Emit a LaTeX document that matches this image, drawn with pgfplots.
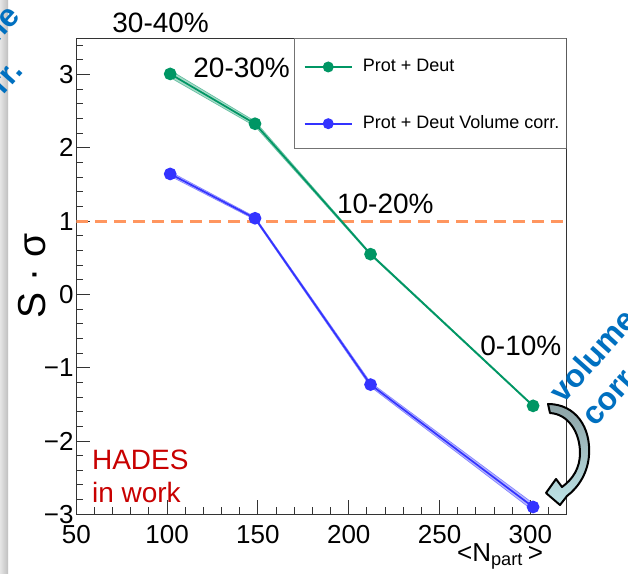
\documentclass[border=0pt]{standalone}
\usepackage{fontspec}
\setmainfont{Liberation Sans}
\usepackage{pgfplots}
\pgfplotsset{compat=1.18}
\definecolor{rgreen}{RGB}{0,150,100}
\definecolor{rblue}{RGB}{51,51,255}
\definecolor{rorange}{RGB}{255,150,95}
\definecolor{hred}{RGB}{200,0,0}
\definecolor{vblue}{RGB}{0,112,192}
\begin{document}
\begin{tikzpicture}
\clip (0,0) rectangle (314pt,287pt);
\fill[white] (0,0) rectangle (314pt,287pt);
\shade[left color=black!10, right color=black!25] (0,0) rectangle (4pt,287pt);
\begin{axis}[
  at={(38.15pt,29.85pt)}, anchor=south west, scale only axis,
  width=245.2pt, height=238.15pt,
  xmin=50, xmax=320, ymin=-3, ymax=3.5,
  axis line style={black!80, line width=0.5pt},
  tick pos=left, tick align=inside,
  major tick length=7pt, minor tick length=3.5pt,
  tick style={black!80, line width=0.5pt},
  xtick={50,100,...,300}, xticklabels={50,100,150,200,250,300},
  minor xtick={60,70,...,310},
  ytick={-3,-2,...,3}, yticklabels={−3,−2,−1,0,1,2,3},
  minor ytick={-2.8,-2.6,...,3.4},
  tick label style={font=\fontsize{13}{13}\selectfont},
  yticklabel style={xshift=2.2pt},
  xticklabel style={yshift=-2pt},
  ylabel={S · σ},
  ylabel style={at={(axis description cs:-0.0638,0.5)}, anchor=base, font=\fontsize{19.5}{19.5}\selectfont},
  xlabel={<N\textsubscript{part}\,>},
  xlabel style={at={(axis description cs:0.966,-0.100)}, anchor=base east, font=\fontsize{13}{13}\selectfont},
  legend style={at={(axis description cs:0.4629,0.8793)}, anchor=west, draw=none, fill=none,
    inner sep=0pt, row sep=20.5pt, font=\fontsize{9}{9}\selectfont, nodes={inner sep=0pt},
    /tikz/every odd column/.append style={column sep=5pt}},
  legend cell align=left,
  legend image code/.code={\draw[mark repeat=2,mark phase=2,mark size=2.3pt] plot coordinates {(0pt,0pt)(11.85pt,0pt)(23.7pt,0pt)};},
]
\addplot[rorange, line width=1.6pt, dash pattern=on 6pt off 3.5pt, forget plot] coordinates {(50,1)(320,1)};
% error bands
\addplot[draw=rgreen, draw opacity=0.5, line width=0.3pt, fill=rgreen, fill opacity=0.35, forget plot] coordinates {(101.7,3.06)(148.4,2.365)(212,0.565)(301.5,-1.508)(301.5,-1.532)(212,0.535)(148.4,2.295)(101.7,2.96)} -- cycle;
\addplot[draw=rblue, draw opacity=0.5, line width=0.3pt, fill=rblue, fill opacity=0.35, forget plot] coordinates {(101.7,1.675)(148.4,1.06)(212,-1.20)(301.5,-2.85)(301.5,-2.95)(212,-1.26)(148.4,1.02)(101.7,1.615)} -- cycle;
\addplot[rgreen, line width=0.85pt, mark=*, mark size=2.75pt, mark options={solid}] coordinates {(101.7,3.01)(148.4,2.33)(212,0.55)(301.5,-1.52)};
\addlegendentry{Prot + Deut}
\addplot[rblue, line width=0.85pt, mark=*, mark size=2.75pt, mark options={solid}] coordinates {(101.7,1.645)(148.4,1.04)(212,-1.23)(301.5,-2.90)};
\addlegendentry{Prot + Deut Volume corr.}
\draw[black!55, line width=0.5pt] (axis description cs:0.4445,0.768) rectangle (axis description cs:1,1);
\end{axis}
\begin{scope}[x=0.5pt, y=-0.5pt, shift={(0pt,287pt)}]
\begin{scope}[every node/.style={inner sep=0pt, font=\fontsize{14}{14}\selectfont}]
\node[anchor=base west] at (112,33) {30-40\%};
\node[anchor=base west] at (193,77.7) {20-30\%};
\node[anchor=base west] at (336.7,213.3) {10-20\%};
\node[anchor=base west] at (480,356) {0-10\%};
\end{scope}
\begin{scope}[every node/.style={inner sep=0pt, text=hred, font=\fontsize{14}{14}\selectfont}]
\node[anchor=base west] at (91.7,470) {HADES};
\node[anchor=base west] at (91.7,503) {in work};
\end{scope}
\begin{scope}[every node/.style={inner sep=0pt, text=vblue, rotate=48, font=\bfseries\fontsize{16}{16}\selectfont}]
\node[anchor=base west] at (563,405) {volume};
\node[anchor=base west] at (595,428) {corr.};
\node[anchor=base west] at (-54,101) {volume};
\node[anchor=base west] at (-22,124) {corr.};
\end{scope}
\shadedraw[top color={rgb,255:red,140;green,162;blue,165}, bottom color={rgb,255:red,190;green,228;blue,232}, draw=black, line width=1pt, line join=round]
 (548,404) .. controls (576,404) and (591,428) .. (589,455) .. controls (588,472) and (579,487) .. (567,496)
 -- (560,505) -- (546,493) -- (556,479) -- (562,487)
 .. controls (573,479) and (580,468) .. (580,453) .. controls (580,432) and (568,414) .. (550,413) -- cycle;
\end{scope}
\end{tikzpicture}
\end{document}
